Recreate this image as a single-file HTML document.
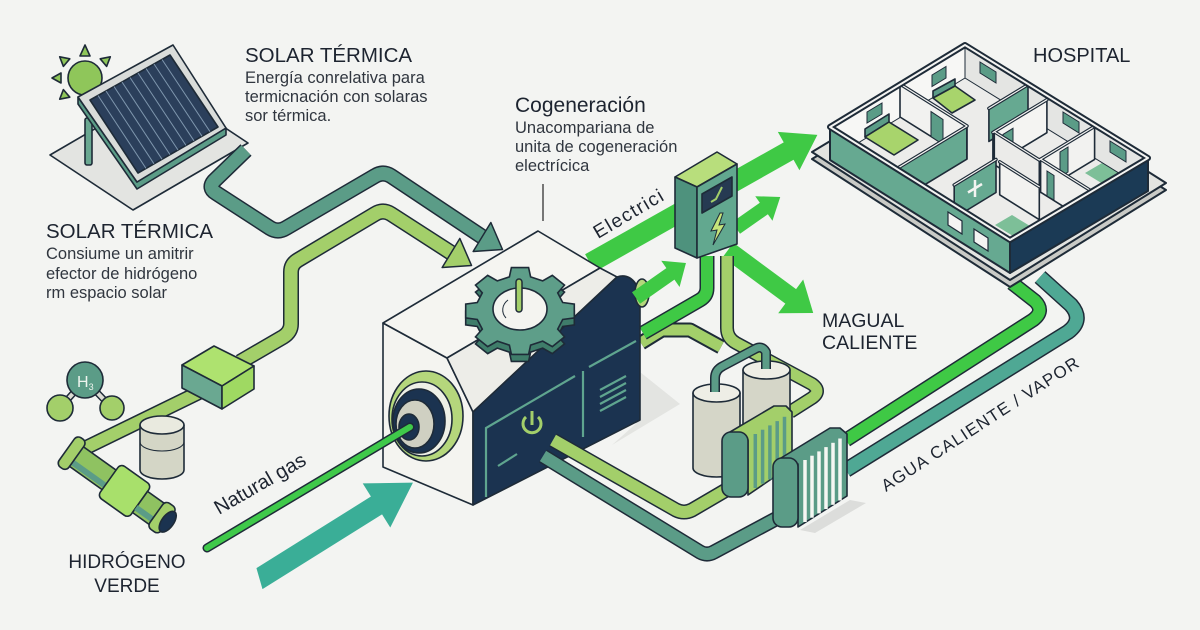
<!DOCTYPE html>
<html><head><meta charset="utf-8">
<style>
html,body{margin:0;padding:0;background:#f3f4f2;}
svg{display:block;}
.po{fill:none;stroke:#1e2b38;stroke-linejoin:round;}
.pf{fill:none;stroke-linejoin:round;}
.o{stroke:#1e2b38;stroke-width:1.6;stroke-linejoin:round;}
text{font-family:"Liberation Sans",Arial,sans-serif;}
.h{fill:#1d2430;}
.b{fill:#30363f;font-size:16.5px;}
</style></head>
<body>
<svg width="1200" height="630" viewBox="0 0 1200 630" xmlns="http://www.w3.org/2000/svg">
<rect width="1200" height="630" fill="#f3f4f2"/>

<!-- ===== SOLAR PANEL ===== -->
<polygon class="o" points="50,155 165,88 248,143 133,210" fill="#e3e4e1"/>
<g fill="#8fc65a" class="o" stroke-width="1.2">
<polygon points="85,45 80,56 90,56"/>
<polygon points="59.7,56.8 69.8,58.8 63.4,66.4"/>
<polygon points="52,78 61,73 61,83"/>
<polygon points="59.7,99.2 69.8,97.2 63.4,89.6"/>
<polygon points="110.3,56.8 106.6,66.4 100.2,58.8"/>
<circle cx="85" cy="78" r="17"/>
</g>
<rect x="85" y="118" width="7" height="47" rx="2" fill="#6aa891" class="o"/>
<polygon class="o" points="78,97 137,182 226,128 226,135 137,189 78,104" fill="#5b9c87"/>
<polygon class="o" points="78,97 173,45 226,128 137,182" fill="#d9dcda"/>
<polygon class="o" points="90,100 170,55 218,127 138,173" fill="#2b3f5b"/>
<g stroke="#7f97ae" stroke-width="1">
<line x1="98" y1="95.5" x2="146" y2="168.4"/><line x1="106" y1="91" x2="154" y2="163.8"/>
<line x1="114" y1="86.5" x2="162" y2="159.2"/><line x1="122" y1="82" x2="170" y2="154.6"/>
<line x1="130" y1="77.5" x2="178" y2="150"/><line x1="138" y1="73" x2="186" y2="145.4"/>
<line x1="146" y1="68.5" x2="194" y2="140.8"/><line x1="154" y1="64" x2="202" y2="136.2"/>
<line x1="162" y1="59.5" x2="210" y2="131.6"/>
</g>

<!-- ===== PIPES TO ENGINE (teal + light green) ===== -->
<path class="po" stroke-width="16" d="M246,150 L214,181 Q208,188 216,193 L270,228 Q278,233 286,228 L375,176 Q383,171 391,176 L484,238"/>
<path class="pf" stroke="#5b9c87" stroke-width="13" d="M246,150 L214,181 Q208,188 216,193 L270,228 Q278,233 286,228 L375,176 Q383,171 391,176 L484,238"/>
<polygon points="0,-17 24,0 0,17" transform="translate(482,237) rotate(31.4)" fill="#5b9c87" stroke="#1e2b38" stroke-width="1.5" stroke-linejoin="round"/>

<path class="po" stroke-width="16" d="M240,362 L283,337 Q291,332 291,324 L291,272 Q291,264 298,260 L375,214 Q383,209 391,214 L453,254"/>
<path class="pf" stroke="#a3cf6a" stroke-width="13" d="M240,362 L283,337 Q291,332 291,324 L291,272 Q291,264 298,260 L375,214 Q383,209 391,214 L453,254"/>
<polygon points="0,-17 24,0 0,17" transform="translate(451,253) rotate(31.3)" fill="#a3cf6a" stroke="#1e2b38" stroke-width="1.5" stroke-linejoin="round"/>

<!-- ===== HYDROGEN ===== -->
<line x1="85" y1="380" x2="60" y2="408" stroke="#1e2b38" stroke-width="7"/>
<line x1="85" y1="380" x2="60" y2="408" stroke="#dcdcd4" stroke-width="4"/>
<line x1="85" y1="380" x2="112" y2="408" stroke="#1e2b38" stroke-width="7"/>
<line x1="85" y1="380" x2="112" y2="408" stroke="#dcdcd4" stroke-width="4"/>
<circle cx="60" cy="408" r="13" fill="#a3cf6a" class="o"/>
<circle cx="112" cy="408" r="12" fill="#a3cf6a" class="o"/>
<circle cx="85" cy="380" r="18" fill="#5b9c87" class="o"/>
<text x="77" y="387" fill="#eef4ee" font-size="16">H<tspan font-size="9" dy="3">3</tspan></text>

<path class="po" stroke-width="15" d="M75,453 L200,392"/>
<path class="pf" stroke="#a3cf6a" stroke-width="12" d="M75,453 L200,392"/>
<polygon class="o" points="182,365 214,346 254,366 222,386" fill="#aee26f"/>
<polygon class="o" points="182,365 222,386 222,409 182,388" fill="#6aa891"/>
<polygon class="o" points="222,386 254,366 254,389 222,409" fill="#9fd962"/>

<path class="o" d="M140,425 L140,470 A22,9 0 0 0 184,470 L184,425 Z" fill="#d4d6c6"/>
<ellipse cx="162" cy="425" rx="22" ry="9" fill="#e9eadf" class="o"/>
<path d="M140,442 A22,9 0 0 0 184,442" fill="none" stroke="#1e2b38" stroke-width="1"/>

<g transform="translate(70,452) rotate(35.5)">
<rect x="4" y="-12" width="50" height="24" fill="#8fc261" class="o"/>
<rect x="4" y="4" width="50" height="6" fill="#5b9c87"/>
<rect x="-4" y="-18" width="12" height="36" rx="5" fill="#a3cf6a" class="o"/>
<rect x="48" y="-20" width="38" height="40" rx="5" fill="#a8e06b" class="o"/>
<rect x="86" y="-13" width="24" height="26" fill="#8fc261" class="o"/>
<rect x="86" y="4" width="24" height="6" fill="#5b9c87"/>
<rect x="106" y="-16" width="14" height="32" rx="5" fill="#a3cf6a" class="o"/>
<ellipse cx="120" cy="0" rx="6" ry="12" fill="#1b3350" class="o"/>
</g>

<!-- ===== GREEN FLOWS BEHIND ENGINE / BOX ===== -->
<polygon points="0,-10 228,-10 228,-22 261,0 228,22 228,10 0,10" transform="translate(590,263) rotate(-29.4)" fill="#3fc945"/>
<polygon points="0,-7 34,-7 34,-15 54,0 34,15 34,7 0,7" transform="translate(736,228) rotate(-35)" fill="#3fc945"/>
<polygon points="0,-9 78,-9 78,-21 106,0 78,21 78,9 0,9" transform="translate(728,250) rotate(36.5)" fill="#3fc945"/>

<path class="po" stroke-width="15" d="M641,343 L662,330 L690,330 L721,347"/>
<path class="pf" stroke="#a3cf6a" stroke-width="11" d="M641,343 L662,330 L690,330 L721,347"/>
<path class="po" stroke-width="15" d="M643,333 L700,300 Q707,296 707,288 L707,256"/>
<path class="pf" stroke="#3fc945" stroke-width="12" d="M643,333 L700,300 Q707,296 707,288 L707,256"/>
<path class="po" stroke-width="14" d="M727,256 L727,328 Q727,338 736,343 L812,384 Q822,391 812,398 L790,412"/>
<path class="pf" stroke="#a3cf6a" stroke-width="11" d="M727,256 L727,328 Q727,338 736,343 L812,384 Q822,391 812,398 L790,412"/>

<!-- electrical box -->
<polygon class="o" points="675,177 717,152 737,164 697,187" fill="#b8de7c"/>
<polygon class="o" points="675,177 697,187 697,258 675,248" fill="#4e927d"/>
<polygon class="o" points="697,187 737,164 737,244 697,258" fill="#62a88f"/>
<polygon points="702,194 732,177 732,196 702,213" fill="#263a52" class="o" stroke-width="1"/>
<polyline points="711,202 716,199 722,187" fill="none" stroke="#a3cf6a" stroke-width="2"/>
<polygon points="720,213 711,231 717,230 713,245 725,224 719,225 723,213" fill="#c5e37a" stroke="#1e2b38" stroke-width="1"/>

<!-- ===== ENGINE ===== -->
<polygon points="640,372 680,404 612,445 640,420" fill="#e3e4e1"/>
<polygon class="o" points="383,323 447,358 473,412 473,505 383,467" fill="#f4f4f0"/>
<polygon class="o" points="383,323 538,231 600,268 447,358" fill="#f5f5f1"/>
<polygon class="o" points="447,358 600,268 617,277 473,412" fill="#ededE8"/>
<path class="o" d="M473,412 L617,277 Q632,272 640,292 L640,420 L473,505 Z" fill="#1b3350"/>
<ellipse cx="642" cy="293" rx="7" ry="14" fill="#b5d77c" class="o"/>
<g stroke="#5fa58f" stroke-width="2.2" fill="none">
<polyline points="486,497 486,428 575,376"/>
<line x1="583" y1="371" x2="583" y2="437"/>
<line x1="589" y1="367" x2="636" y2="341"/>
<line x1="498" y1="466" x2="517" y2="454"/>
<line x1="600" y1="390" x2="626" y2="376"/><line x1="600" y1="397" x2="626" y2="383"/>
<line x1="600" y1="404" x2="626" y2="390"/><line x1="600" y1="411" x2="626" y2="397"/>
</g>
<path d="M526,417 A9,9 0 1 0 538,417" fill="none" stroke="#a3cf6a" stroke-width="3"/>
<line x1="532" y1="411" x2="532" y2="425" stroke="#a3cf6a" stroke-width="3"/>

<!-- gear -->
<g transform="translate(520,318) scale(1,0.8)">
<polygon vector-effect="non-scaling-stroke" stroke="#1e2b38" stroke-width="1.6" fill="#3f7d6a" points="42.7,-10.6 54.3,-8.6 54.3,8.6 42.7,10.6 37.7,22.7 44.5,32.3 32.3,44.5 22.7,37.7 10.6,42.7 8.6,54.3 -8.6,54.3 -10.6,42.7 -22.7,37.7 -32.3,44.5 -44.5,32.3 -37.7,22.7 -42.7,10.6 -54.3,8.6 -54.3,-8.6 -42.7,-10.6 -37.7,-22.7 -44.5,-32.3 -32.3,-44.5 -22.7,-37.7 -10.6,-42.7 -8.6,-54.3 8.6,-54.3 10.6,-42.7 22.7,-37.7 32.3,-44.5 44.5,-32.3 37.7,-22.7"/>
</g>
<g transform="translate(520,311) scale(1,0.8)">
<polygon vector-effect="non-scaling-stroke" stroke="#1e2b38" stroke-width="1.6" fill="#5e9e89" points="42.7,-10.6 54.3,-8.6 54.3,8.6 42.7,10.6 37.7,22.7 44.5,32.3 32.3,44.5 22.7,37.7 10.6,42.7 8.6,54.3 -8.6,54.3 -10.6,42.7 -22.7,37.7 -32.3,44.5 -44.5,32.3 -37.7,22.7 -42.7,10.6 -54.3,8.6 -54.3,-8.6 -42.7,-10.6 -37.7,-22.7 -44.5,-32.3 -32.3,-44.5 -22.7,-37.7 -10.6,-42.7 -8.6,-54.3 8.6,-54.3 10.6,-42.7 22.7,-37.7 32.3,-44.5 44.5,-32.3 37.7,-22.7"/>
</g>
<ellipse cx="520" cy="309" rx="27" ry="21" fill="#f4f4f0" class="o"/>
<path d="M506,318 A15,13 0 0 1 508,300" fill="none" stroke="#1e2b38" stroke-width="1"/>
<line x1="519" y1="282" x2="519" y2="309" stroke="#1e2b38" stroke-width="7.5" stroke-linecap="round"/>
<line x1="519" y1="282" x2="519" y2="309" stroke="#a3cf6a" stroke-width="4.5" stroke-linecap="round"/>

<!-- port -->
<ellipse cx="426" cy="416" rx="37" ry="45" fill="#b5d77c" class="o"/>
<ellipse cx="422" cy="419" rx="30" ry="37" fill="#eef0e6" class="o"/>
<ellipse cx="419" cy="421" rx="26" ry="32" fill="#1b3350" class="o"/>
<ellipse cx="415" cy="424" rx="19" ry="24" fill="#cfd0c2" class="o"/>
<ellipse cx="409" cy="427" rx="10" ry="13" fill="#1b3350" class="o"/>

<!-- arrow from engine cap -->
<polygon points="0,-7 42,-7 42,-16 61,0 42,16 42,7 0,7" transform="translate(636,298) rotate(-35)" fill="#3fc945"/>

<!-- natural gas line & big teal arrow -->
<path class="po" stroke-width="9" stroke-linecap="round" d="M207,548 L410,427"/>
<path class="pf" stroke="#3fc94a" stroke-width="6" stroke-linecap="round" d="M207,548 L410,427"/>
<polygon points="-6,10.5 0,-10.5 135,-10.5 135,-26 178,0 135,26 135,10.5" transform="translate(262,577) rotate(-32)" fill="#3aae97"/>

<!-- ===== PIPES TO EXCHANGERS ===== -->
<path class="po" stroke-width="15" d="M553,440 L676,510 Q684,514 692,510 L733,486"/>
<path class="pf" stroke="#a3cf6a" stroke-width="12" d="M553,440 L676,510 Q684,514 692,510 L733,486"/>
<path class="po" stroke-width="15" d="M543,456 L700,552 Q707,556 714,552 L785,514"/>
<path class="pf" stroke="#5b9c87" stroke-width="12" d="M543,456 L700,552 Q707,556 714,552 L785,514"/>

<!-- cylinders -->
<path class="o" d="M743,370 L743,440 A23.5,9 0 0 0 790,440 L790,370 Z" fill="#d5d6c8"/>
<ellipse cx="766.5" cy="370" rx="23.5" ry="9" fill="#eeeee6" class="o"/>
<path class="o" d="M693,393 L693,468 A23.5,9 0 0 0 740,468 L740,393 Z" fill="#d5d6c8"/>
<ellipse cx="716.5" cy="393" rx="23.5" ry="9" fill="#eeeee6" class="o"/>
<path class="po" stroke-width="10" d="M715,392 L715,378 Q715,370 723,366 L755,349 Q762,345 766,352 L766,369"/>
<path class="pf" stroke="#5b9c87" stroke-width="7" d="M715,392 L715,378 Q715,370 723,366 L755,349 Q762,345 766,352 L766,369"/>

<!-- pipes to hospital -->
<path class="po" stroke-width="15" d="M846,440 L1033,320 Q1045,311 1035,301 L1012,283"/>
<path class="pf" stroke="#3fc945" stroke-width="12" d="M846,440 L1033,320 Q1045,311 1035,301 L1012,283"/>
<path class="po" stroke-width="16" d="M846,470 L1068,332 Q1084,320 1071,305 L1040,277"/>
<path class="pf" stroke="#4fa894" stroke-width="13" d="M846,470 L1068,332 Q1084,320 1071,305 L1040,277"/>

<!-- exchanger 1 -->
<polygon class="o" points="730,432 774,406 786,406 792,412 792,465 748,495 748,440" fill="#a3cf6a"/>
<g stroke="#5b9c87" stroke-width="3.5">
<line x1="755.3" y1="434" x2="755.3" y2="488"/><line x1="762.6" y1="429.7" x2="762.6" y2="483.7"/>
<line x1="769.9" y1="425.4" x2="769.9" y2="479.4"/><line x1="777.2" y1="421.1" x2="777.2" y2="475.1"/>
<line x1="784.5" y1="416.8" x2="784.5" y2="470.8"/>
</g>
<rect x="722" y="432" width="26" height="65" rx="9" fill="#5b9c87" class="o"/>

<!-- exchanger 2 -->
<polygon points="800,530 850,500 866,503 815,533" fill="#dcdddb"/>
<polygon class="o" points="781,458 830,428 840,428 847,434 847,496 798,527 798,464" fill="#5b9c87"/>
<g stroke="#f6f7f3" stroke-width="3.5">
<line x1="805" y1="460" x2="805" y2="522"/><line x1="812" y1="455.7" x2="812" y2="517.7"/>
<line x1="819" y1="451.4" x2="819" y2="513.4"/><line x1="826" y1="447.1" x2="826" y2="509.1"/>
<line x1="833" y1="442.8" x2="833" y2="504.8"/><line x1="840" y1="438.5" x2="840" y2="500.5"/>
</g>
<rect x="773" y="458" width="25" height="69" rx="9" fill="#5b9c87" class="o"/>

<!-- ===== HOSPITAL ===== -->
<polygon points="812,159 968,65 1166,190 1010,287" fill="#c9cac6" stroke="#1e2b38" stroke-width="2" stroke-linejoin="round"/>
<polygon points="812,152 968,58 1166,183 1010,280" fill="#e3e4e1" stroke="#1e2b38" stroke-width="2" stroke-linejoin="round"/>
<!-- floor -->
<polygon points="830,160 965,78 1148,191 1010,273" fill="#ececea"/>
<polygon points="995,225 1012,215 1030,226 1013,236" fill="#7dbf98"/>
<polygon points="1085,173 1102,163 1120,174 1103,184" fill="#7dbf98"/>
<!-- back inner faces -->
<polygon points="830,127 965,45 965,78 830,160" fill="#f7f7f5" stroke="#1e2b38" stroke-width="1"/>
<polygon points="965,45 1148,158 1148,191 965,78" fill="#e4e5e3" stroke="#1e2b38" stroke-width="1"/>
<g fill="#5b9c87" stroke="#1e2b38" stroke-width="1">
<polygon points="867,112 882,103 882,114 867,123"/>
<polygon points="932,75 946,66.5 946,78 932,86.5"/>
<polygon points="980,62 996,72 996,83 980,73"/>
<polygon points="1063,112 1079,122 1079,133 1063,123"/>
<polygon points="1110,141 1126,151 1126,162 1110,152"/>
</g>
<!-- bed 2 -->
<polygon points="933,91 955,79 955,86 933,98" fill="#5b9c87" class="o" stroke-width="1"/>
<polygon points="933,98 955,86 975,100 952,113" fill="#a8d46c" class="o" stroke-width="1"/>
<!-- wall C -->
<polygon points="988.9,108.4 1028,84.6 1028,117.6 988.9,141.4" fill="#66a991" class="o" stroke-width="1.3"/>
<!-- wall A -->
<polygon points="900,84 967,126 967,159 900,117" fill="#f2f2f0" class="o" stroke-width="1.3"/>
<polygon points="931,111.6 943,119.5 943,144.5 931,136.6" fill="#5b9c87" stroke="#1e2b38" stroke-width="1"/>
<!-- bed 1 -->
<polygon points="865,129 889,114 889,122 865,137" fill="#5b9c87" class="o" stroke-width="1"/>
<polygon points="865,137 889,122 918,140 894,155" fill="#a8d46c" class="o" stroke-width="1"/>
<!-- wall B -->
<polygon points="896.6,168.8 966.8,126.2 966.8,159.2 896.6,201.8" fill="#66a991" class="o" stroke-width="1.3"/>
<!-- desk -->
<polygon points="1027,133 1036,128 1044,133 1035,138" fill="#a8d46c" class="o" stroke-width="1"/>
<!-- wall D -->
<polygon points="992.9,132.5 1046.9,99.7 1046.9,132.7 992.9,165.5" fill="#f4f4f2" class="o" stroke-width="1.3"/>
<polygon points="1003,134.4 1013,128.3 1013,153.3 1003,159.4" fill="#5b9c87" stroke="#1e2b38" stroke-width="1"/>
<!-- wall F -->
<polygon points="1039.3,160 1094.6,126.4 1094.6,159.4 1039.3,193" fill="#f2f2f0" class="o" stroke-width="1.3"/>
<polygon points="1060,152 1068,147 1068,172 1060,177" fill="#5b9c87" stroke="#1e2b38" stroke-width="1"/>
<!-- wall E -->
<polygon points="994.3,131.7 1039.3,160 1039.3,193 994.3,164.7" fill="#ebebe9" class="o" stroke-width="1.3"/>
<!-- wall G -->
<polygon points="1040.6,159.2 1091,190.8 1091,223.8 1040.6,192.2" fill="#f0f0ee" class="o" stroke-width="1.3"/>
<polygon points="1047,171 1054,175.5 1054,200 1047,196" fill="#5b9c87" stroke="#1e2b38" stroke-width="1"/>
<!-- wall K -->
<polygon points="999.7,161.8 1039.3,186.7 1039.3,219.7 999.7,194.8" fill="#f2f2f0" class="o" stroke-width="1.3"/>
<!-- wall I (teal with cross) -->
<polygon points="954.2,185 996,159.5 996,192.5 954.2,218" fill="#66a991" class="o" stroke-width="1.3"/>
<line x1="975" y1="180" x2="975" y2="197" stroke="#f4f4f2" stroke-width="2.5"/>
<line x1="968" y1="192.5" x2="982" y2="184" stroke="#f4f4f2" stroke-width="2.5"/>
<!-- partition top rims -->
<g fill="none" stroke="#1e2b38" stroke-width="3.5" stroke-linecap="round">
<line x1="900" y1="84" x2="967" y2="126"/><line x1="896.6" y1="168.8" x2="966.8" y2="126.2"/>
<line x1="988.9" y1="108.4" x2="1028" y2="84.6"/><line x1="992.9" y1="132.5" x2="1046.9" y2="99.7"/>
<line x1="994.3" y1="131.7" x2="1039.3" y2="160"/><line x1="1039.3" y1="160" x2="1094.6" y2="126.4"/>
<line x1="1040.6" y1="159.2" x2="1091" y2="190.8"/><line x1="999.7" y1="161.8" x2="1039.3" y2="186.7"/>
<line x1="954.2" y1="185" x2="996" y2="159.5"/>
</g>
<g fill="none" stroke="#f4f4f2" stroke-width="1.2" stroke-linecap="round">
<line x1="900" y1="84" x2="967" y2="126"/><line x1="896.6" y1="168.8" x2="966.8" y2="126.2"/>
<line x1="988.9" y1="108.4" x2="1028" y2="84.6"/><line x1="992.9" y1="132.5" x2="1046.9" y2="99.7"/>
<line x1="994.3" y1="131.7" x2="1039.3" y2="160"/><line x1="1039.3" y1="160" x2="1094.6" y2="126.4"/>
<line x1="1040.6" y1="159.2" x2="1091" y2="190.8"/><line x1="999.7" y1="161.8" x2="1039.3" y2="186.7"/>
<line x1="954.2" y1="185" x2="996" y2="159.5"/>
</g>
<!-- outer front walls -->
<polygon points="830,127 1010,240 1010,273 830,160" fill="#66a991" stroke="#1e2b38" stroke-width="2" stroke-linejoin="round"/>
<polygon points="948,212 962,221 962,234 948,225" fill="#f4f4f2" stroke="#1e2b38" stroke-width="1.2"/>
<polygon points="974,229 988,238 988,251 974,242" fill="#f4f4f2" stroke="#1e2b38" stroke-width="1.2"/>
<polygon points="1010,240 1148,158 1148,191 1010,273" fill="#1b3a55" stroke="#1e2b38" stroke-width="2" stroke-linejoin="round"/>
<polygon points="830,127 965,45 1148,158 1010,240" fill="none" stroke="#1e2b38" stroke-width="6" stroke-linejoin="round"/>
<polygon points="830,127 965,45 1148,158 1010,240" fill="none" stroke="#f4f4f2" stroke-width="2" stroke-linejoin="round"/>

<!-- ===== TEXT ===== -->
<text x="245" y="62" class="h" font-size="20.5">SOLAR TÉRMICA</text>
<text x="245" y="83" class="b">Energía conrelativa para</text>
<text x="245" y="102" class="b">termicnación con solaras</text>
<text x="245" y="121" class="b">sor térmica.</text>

<text x="46" y="238" class="h" font-size="20.5">SOLAR TÉRMICA</text>
<text x="46" y="259" class="b">Consiume un amitrir</text>
<text x="46" y="279" class="b">efector de hidrógeno</text>
<text x="46" y="298" class="b">rm espacio solar</text>

<text x="515" y="112" class="h" font-size="21">Cogeneración</text>
<text x="515" y="133" class="b">Unacompariana de</text>
<text x="515" y="152" class="b">unita de cogeneración</text>
<text x="515" y="171" class="b">electrícica</text>
<line x1="543" y1="184" x2="543" y2="221" stroke="#333" stroke-width="1.3"/>

<text x="1033" y="62" class="h" font-size="20">HOSPITAL</text>
<text x="822" y="327" class="h" font-size="19.5">MAGUAL</text>
<text x="822" y="349" class="h" font-size="19.5">CALIENTE</text>
<text x="127" y="568" class="h" font-size="19" text-anchor="middle">HIDRÓGENO</text>
<text x="127" y="592" class="h" font-size="19" text-anchor="middle">VERDE</text>

<text transform="translate(219,515) rotate(-30)" class="h" font-size="20">Natural gas</text>
<text transform="translate(598,239) rotate(-30.5)" class="h" font-size="19" letter-spacing="1.4">Electrici</text>
<text transform="translate(886,492) rotate(-33)" class="h" font-size="17" letter-spacing="1.2">AGUA CALIENTE / VAPOR</text>
</svg>
</body></html>
